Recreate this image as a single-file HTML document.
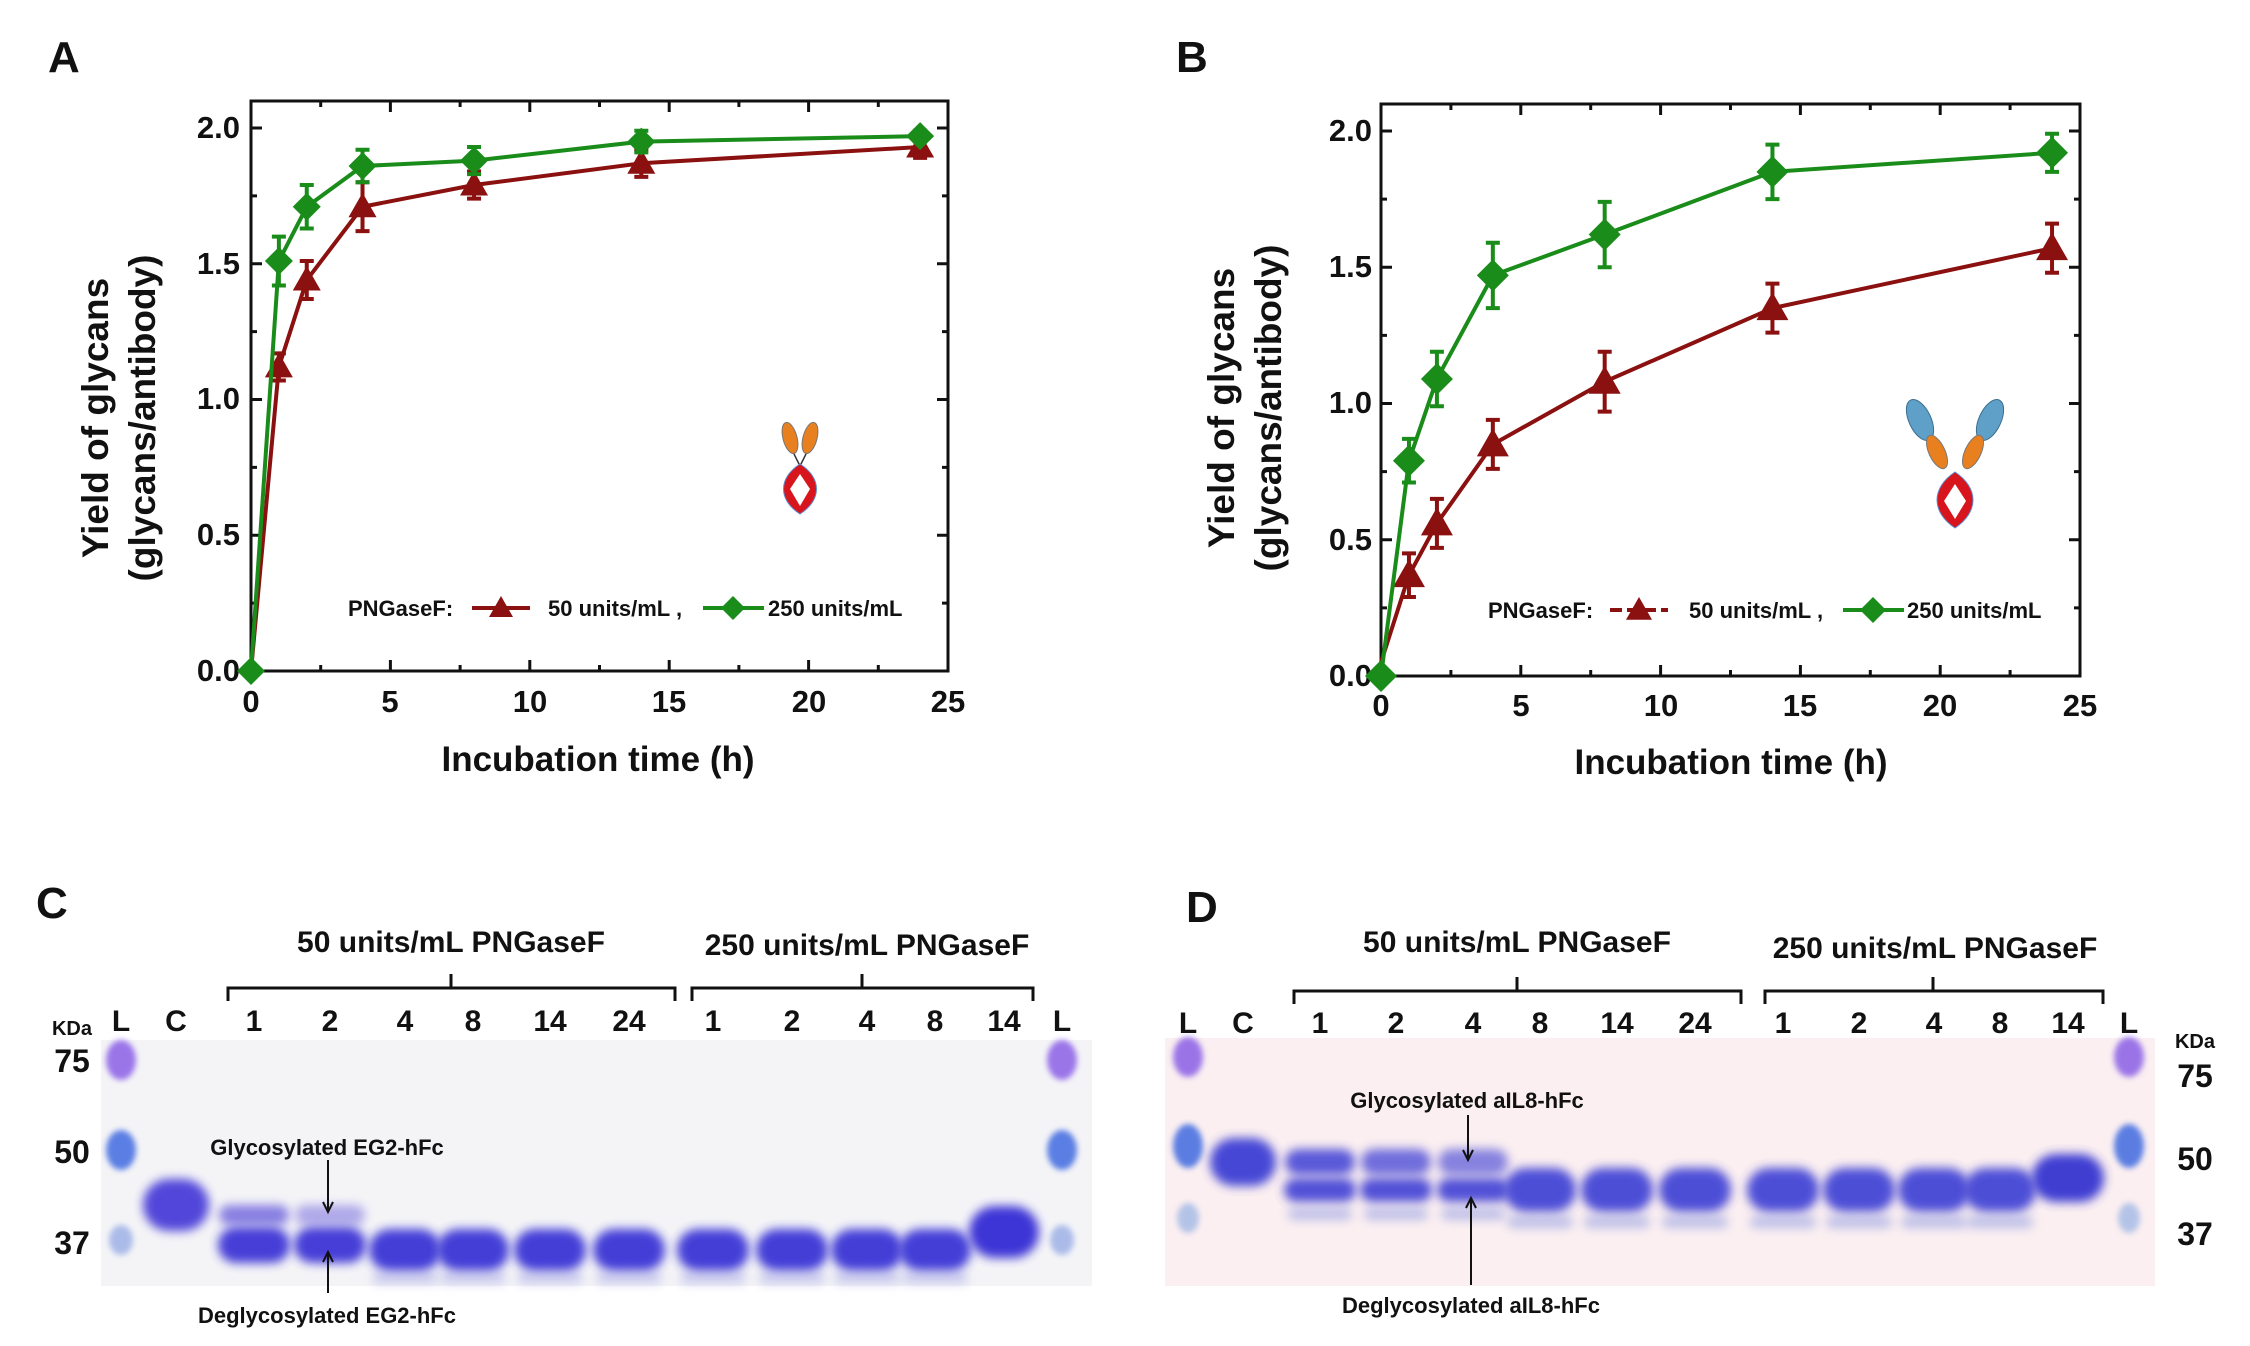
<!DOCTYPE html>
<html><head><meta charset="utf-8"><style>
html,body{margin:0;padding:0;background:#fff;}
svg{display:block;}
text{font-family:"Liberation Sans",Arial,sans-serif;font-weight:bold;fill:#111;}
</style></head><body>
<svg id="s" width="2250" height="1346" viewBox="0 0 2250 1346" xmlns="http://www.w3.org/2000/svg">
<defs>
<filter id="b" x="-30%" y="-80%" width="160%" height="260%"><feGaussianBlur stdDeviation="5"/></filter>
<filter id="b2" x="-30%" y="-60%" width="160%" height="220%"><feGaussianBlur stdDeviation="3"/></filter>
</defs>
<text x="48" y="72" font-size="44">A</text>
<text x="1176" y="72" font-size="44">B</text>
<text x="36" y="918" font-size="44">C</text>
<text x="1186" y="922" font-size="44">D</text>

<rect x="251" y="101" width="697" height="570" fill="none" stroke="#111" stroke-width="3"/>
<g font-size="31" text-anchor="end">
<text x="240" y="681">0.0</text><text x="240" y="545">0.5</text><text x="240" y="409">1.0</text><text x="240" y="274">1.5</text><text x="240" y="138">2.0</text>
</g>
<g font-size="31" text-anchor="middle">
<text x="251" y="712">0</text><text x="390" y="712">5</text><text x="530" y="712">10</text><text x="669" y="712">15</text><text x="809" y="712">20</text><text x="948" y="712">25</text>
</g>
<text x="598" y="771" font-size="35" text-anchor="middle">Incubation time (h)</text>
<text transform="translate(108,418) rotate(-90)" font-size="37" text-anchor="middle">Yield of glycans</text>
<text transform="translate(155,418) rotate(-90)" font-size="37" text-anchor="middle">(glycans/antibody)</text>
<g font-size="22">
<text x="348" y="616">PNGaseF:</text>
<text x="548" y="616">50 units/mL ,</text>
<text x="768" y="616">250 units/mL</text>
</g>

<rect x="1381" y="104" width="699" height="572" fill="none" stroke="#111" stroke-width="3"/>
<g font-size="31" text-anchor="end">
<text x="1372" y="686">0.0</text><text x="1372" y="550">0.5</text><text x="1372" y="413">1.0</text><text x="1372" y="277">1.5</text><text x="1372" y="141">2.0</text>
</g>
<g font-size="31" text-anchor="middle">
<text x="1381" y="716">0</text><text x="1521" y="716">5</text><text x="1661" y="716">10</text><text x="1800" y="716">15</text><text x="1940" y="716">20</text><text x="2080" y="716">25</text>
</g>
<text x="1731" y="774" font-size="35" text-anchor="middle">Incubation time (h)</text>
<text transform="translate(1234,408) rotate(-90)" font-size="37" text-anchor="middle">Yield of glycans</text>
<text transform="translate(1281,408) rotate(-90)" font-size="37" text-anchor="middle">(glycans/antibody)</text>
<g font-size="22">
<text x="1488" y="618">PNGaseF:</text>
<text x="1689" y="618">50 units/mL ,</text>
<text x="1907" y="618">250 units/mL</text>
</g>

<g id="plots"></g>

<g transform="translate(800,470)">
<ellipse cx="-10" cy="-32" rx="7" ry="16" fill="#e9801f" stroke="#777" transform="rotate(-15 -10 -32)"/>
<ellipse cx="10" cy="-32" rx="7" ry="16" fill="#e9801f" stroke="#777" transform="rotate(15 10 -32)"/>
<line x1="-6" y1="-16" x2="0" y2="-4" stroke="#333" stroke-width="1.5"/><line x1="6" y1="-16" x2="0" y2="-4" stroke="#333" stroke-width="1.5"/>
<path d="M0 -6 C-22 8 -22 30 0 44 C22 30 22 8 0 -6 Z" fill="#d8141c" stroke="#5b8ed0"/>
<path d="M0 4 L-10 19 L0 36 L10 19 Z" fill="#fff"/>
</g>
<g transform="translate(1955,480)">
<ellipse cx="-35" cy="-60" rx="11" ry="22" fill="#5fa0c8" stroke="#3b6e90" transform="rotate(-25 -35 -60)"/>
<ellipse cx="35" cy="-60" rx="11" ry="22" fill="#5fa0c8" stroke="#3b6e90" transform="rotate(25 35 -60)"/>
<ellipse cx="-18" cy="-28" rx="8" ry="18" fill="#e9801f" stroke="#777" transform="rotate(-25 -18 -28)"/>
<ellipse cx="18" cy="-28" rx="8" ry="18" fill="#e9801f" stroke="#777" transform="rotate(25 18 -28)"/>
<path d="M0 -8 C-24 8 -24 32 0 48 C24 32 24 8 0 -8 Z" fill="#d8141c" stroke="#5b8ed0"/>
<path d="M0 4 L-11 21 L0 39 L11 21 Z" fill="#fff"/>
</g>

<rect x="101" y="1040" width="991" height="246" fill="#f4f4f7"/>
<g id="gelC"></g>
<g font-size="30" text-anchor="middle">
<text x="451" y="952">50 units/mL PNGaseF</text>
<text x="867" y="955">250 units/mL PNGaseF</text>
</g>
<path d="M228 1001 V988 H675 V1001 M451 988 V974" fill="none" stroke="#111" stroke-width="3"/>
<path d="M692 1001 V988 H1033 V1001 M862 988 V974" fill="none" stroke="#111" stroke-width="3"/>
<g font-size="30" text-anchor="middle">
<text x="121" y="1031">L</text><text x="176" y="1031">C</text><text x="254" y="1031">1</text><text x="330" y="1031">2</text><text x="405" y="1031">4</text><text x="473" y="1031">8</text><text x="550" y="1031">14</text><text x="629" y="1031">24</text><text x="713" y="1031">1</text><text x="792" y="1031">2</text><text x="867" y="1031">4</text><text x="935" y="1031">8</text><text x="1004" y="1031">14</text><text x="1062" y="1031">L</text>
</g>
<text x="72" y="1035" font-size="20" text-anchor="middle" font-weight="normal">KDa</text>
<g font-size="32" text-anchor="middle"><text x="72" y="1072">75</text><text x="72" y="1163">50</text><text x="72" y="1254">37</text></g>
<g font-size="22" text-anchor="middle"><text x="327" y="1155">Glycosylated EG2-hFc</text><text x="327" y="1323">Deglycosylated EG2-hFc</text></g>

<rect x="1165" y="1038" width="990" height="248" fill="#fbeff1"/>
<g id="gelD"></g>
<g font-size="30" text-anchor="middle">
<text x="1517" y="952">50 units/mL PNGaseF</text>
<text x="1935" y="958">250 units/mL PNGaseF</text>
</g>
<path d="M1294 1004 V991 H1741 V1004 M1517 991 V977" fill="none" stroke="#111" stroke-width="3"/>
<path d="M1765 1004 V991 H2103 V1004 M1933 991 V977" fill="none" stroke="#111" stroke-width="3"/>
<g font-size="30" text-anchor="middle">
<text x="1188" y="1033">L</text><text x="1243" y="1033">C</text><text x="1320" y="1033">1</text><text x="1396" y="1033">2</text><text x="1473" y="1033">4</text><text x="1540" y="1033">8</text><text x="1617" y="1033">14</text><text x="1695" y="1033">24</text><text x="1783" y="1033">1</text><text x="1859" y="1033">2</text><text x="1934" y="1033">4</text><text x="2000" y="1033">8</text><text x="2068" y="1033">14</text><text x="2129" y="1033">L</text>
</g>
<text x="2195" y="1048" font-size="20" text-anchor="middle" font-weight="normal">KDa</text>
<g font-size="32" text-anchor="middle"><text x="2195" y="1087">75</text><text x="2195" y="1170">50</text><text x="2195" y="1245">37</text></g>
<g font-size="22" text-anchor="middle"><text x="1467" y="1108">Glycosylated aIL8-hFc</text><text x="1471" y="1313">Deglycosylated aIL8-hFc</text></g>
<g id="arrows"></g>
</svg>
<script>
var NS="http://www.w3.org/2000/svg",P=document.getElementById("plots");
function el(t,a,p){var e=document.createElementNS(NS,t);for(var k in a)e.setAttribute(k,a[k]);(p||P).appendChild(e);return e;}
function axisTicks(x0,x1,y0,y1,ypu){
 var xs=(x1-x0)/25;
 for(var t=0;t<=25;t+=2.5){var x=x0+t*xs,L=(t%5==0)?11:6;
  el("line",{x1:x,y1:y1,x2:x,y2:y1-L,stroke:"#111","stroke-width":3});
  el("line",{x1:x,y1:y0,x2:x,y2:y0+L,stroke:"#111","stroke-width":3});}
 for(var v=0;v<=2.01;v+=0.25){var y=y1-v*ypu,L=(Math.round(v*4)%2==0)?11:6;
  el("line",{x1:x0,y1:y,x2:x0+L,y2:y,stroke:"#111","stroke-width":3});
  el("line",{x1:x1,y1:y,x2:x1-L,y2:y,stroke:"#111","stroke-width":3});}
}
function tri(x,y,c,s){el("path",{d:"M"+x+" "+(y-s)+" L"+(x+s)+" "+(y+s*0.75)+" L"+(x-s)+" "+(y+s*0.75)+" Z",fill:c});}
function dia(x,y,c,s){el("path",{d:"M"+x+" "+(y-s)+" L"+(x+s)+" "+y+" L"+x+" "+(y+s)+" L"+(x-s)+" "+y+" Z",fill:c});}
function series(x0,xs,y1,ypu,ts,vs,es,c,mk,s){
 var pts=ts.map(function(t,i){return [x0+t*xs,y1-vs[i]*ypu];});
 el("polyline",{points:pts.map(function(p){return p.join(",")}).join(" "),fill:"none",stroke:c,"stroke-width":4});
 pts.forEach(function(p,i){var e=es[i];if(e){var a=p[1]-e*ypu,b=p[1]+e*ypu;
  el("path",{d:"M"+p[0]+" "+a+" V"+b+" M"+(p[0]-7)+" "+a+" H"+(p[0]+7)+" M"+(p[0]-7)+" "+b+" H"+(p[0]+7),stroke:c,"stroke-width":4,fill:"none"});}
  if(i>0||mk==dia) mk(p[0],p[1],c,s);});
}
var R="#8b1010",G="#1a8c1a",T=[0,1,2,4,8,14,24];
axisTicks(251,948,101,671,271.5);
series(251,27.88,671,271.5,T,[0,1.12,1.44,1.71,1.79,1.87,1.93],[0,0.05,0.07,0.09,0.05,0.05,0.04],R,tri,14);
series(251,27.88,671,271.5,T,[0,1.51,1.71,1.86,1.88,1.95,1.97],[0,0.09,0.08,0.06,0.05,0.04,0.02],G,dia,14);
axisTicks(1381,2080,104,676,272.5);
series(1381,27.96,676,272.5,T,[0.05,0.37,0.56,0.85,1.08,1.35,1.57],[0,0.08,0.09,0.09,0.11,0.09,0.09],R,tri,16);
series(1381,27.96,676,272.5,T,[0,0.79,1.09,1.47,1.62,1.85,1.92],[0,0.08,0.1,0.12,0.12,0.1,0.07],G,dia,16);
el("line",{x1:472,y1:608,x2:530,y2:608,stroke:R,"stroke-width":4});tri(501,608,R,12);
el("line",{x1:703,y1:608,x2:764,y2:608,stroke:G,"stroke-width":4});dia(733,608,G,12);
el("line",{x1:1610,y1:610,x2:1668,y2:610,stroke:R,"stroke-width":4,"stroke-dasharray":"12 5"});tri(1639,610,R,13);
el("line",{x1:1843,y1:610,x2:1904,y2:610,stroke:G,"stroke-width":4});dia(1873,610,G,13);
function band(g,x,y,w,h,c,o,f){el("rect",{x:x-w/2,y:y-h/2,width:w,height:h,rx:h/2,fill:c,opacity:o,filter:"url(#"+(f||"b")+")"},g);}
var gc=document.getElementById("gelC");
[121,1062].forEach(function(x){band(gc,x,1060,30,40,"#8a5ee6",0.85,"b2");band(gc,x,1150,30,40,"#3f6be0",0.85,"b2");band(gc,x,1240,24,30,"#7a95e0",0.6,"b2");});
band(gc,176,1205,66,52,"#4a3ed8",0.95);
[254,330].forEach(function(x,i){band(gc,x,1215,70,20,"#5a4ed8",i?0.45:0.7);band(gc,x,1245,72,36,"#3e36d6",0.95);});
[405,473,550,629,713,792,867,935].forEach(function(x){band(gc,x,1250,72,42,"#3b34d6",0.95);band(gc,x,1278,66,12,"#8080e0",0.35);});
band(gc,1004,1232,70,52,"#3a30d6",0.98);
var gd=document.getElementById("gelD");
[1188,2129].forEach(function(x){band(gd,x,1057,30,40,"#8a5ee6",0.85,"b2");band(gd,x,1146,30,44,"#3f6be0",0.85,"b2");band(gd,x,1218,22,30,"#7aa0e0",0.55,"b2");});
band(gd,1243,1162,66,48,"#3e40d4",0.95);
[1320,1396,1473].forEach(function(x,i){band(gd,x,1162,70,26,"#4a4ad6",0.9-i*0.12);band(gd,x,1190,72,24,"#4040d4",0.9);band(gd,x,1214,64,12,"#8090e0",0.5);});
[1540,1617,1695,1783,1859,1934,2000].forEach(function(x){band(gd,x,1190,72,44,"#3b3dd4",0.9);band(gd,x,1222,66,12,"#8090e0",0.5);});
band(gd,2068,1178,72,48,"#3535d0",0.95);
var A=document.getElementById("arrows");
el("path",{d:"M328 1160 V1212 M323 1202 L328 1212 L333 1202 M328 1293 V1252 M323 1262 L328 1252 L333 1262 M1468 1115 V1160 M1463 1150 L1468 1160 L1473 1150 M1471 1285 V1198 M1466 1208 L1471 1198 L1476 1208",fill:"none",stroke:"#111","stroke-width":2},A);
</script>
</body></html>
